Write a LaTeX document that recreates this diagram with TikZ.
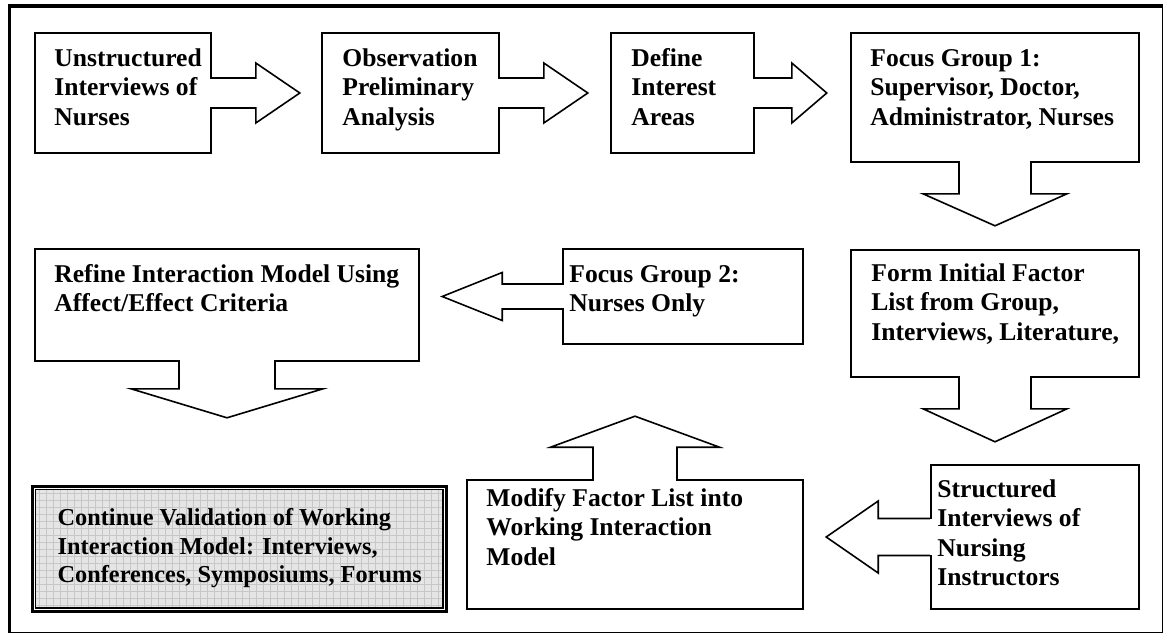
\documentclass[tikz,border=0pt]{standalone}
\usepackage{fontspec}
\setmainfont{Liberation Serif}
\usetikzlibrary{calc}
\newcommand\firstline{\rule{0pt}{18pt}}
\newcommand\arrH[5]{%
  \fill[white] ($(#1)+(-1.6,-#2+0.9)$) rectangle ($(#1)+(1.6,#2-0.9)$);
  \draw[blk] ($(#1)+(0,-#2)$) -- ($(#1)+(#3,-#2)$) -- ($(#1)+(#3,-#4)$) -- ($(#1)+(#5,0)$) -- ($(#1)+(#3,#4)$) -- ($(#1)+(#3,#2)$) -- ($(#1)+(0,#2)$);}
\newcommand\arrV[5]{%
  \fill[white] ($(#1)+(-#2+0.9,-1.6)$) rectangle ($(#1)+(#2-0.9,1.6)$);
  \draw[blk] ($(#1)+(-#2,0)$) -- ($(#1)+(-#2,#3)$) -- ($(#1)+(-#4,#3)$) -- ($(#1)+(0,#5)$) -- ($(#1)+(#4,#3)$) -- ($(#1)+(#2,#3)$) -- ($(#1)+(#2,0)$);}
\begin{document}
\begin{tikzpicture}[x=1pt,y=-1pt,
  box/.style={draw=black, line width=1.6pt, fill=white, rectangle, inner sep=0pt},
  blk/.style={draw=black, line width=1.6pt, line join=miter},
  lbl/.style={anchor=north west, inner sep=0pt, align=left, font=\fontsize{25.6}{29.3}\selectfont\bfseries},
  lblsmall/.style={anchor=north west, inner sep=0pt, align=left, font=\fontsize{24.3}{28.5}\selectfont\bfseries},
  gridline/.style={draw=black!22, line width=0.45pt}]
\useasboundingbox (0,0) rectangle (1164,634);
\fill[white] (0,0) rectangle (1164,634);
% outer frame
\draw[line width=3.5pt] (9.7,632.5) -- (9.7,6) -- (1162.5,6);
\draw[line width=1.2pt] (1162.5,6) -- (1162.5,632.5) -- (9.7,632.5);
% boxes
\node[box, minimum width=176, minimum height=120] (b1) at (123,93) {};
\node[box, minimum width=177, minimum height=120] (b2) at (410.5,93) {};
\node[box, minimum width=143, minimum height=120] (b3) at (682.5,93) {};
\node[box, minimum width=288, minimum height=129] (b4) at (995,97.5) {};
\node[box, minimum width=288, minimum height=127] (b5) at (995,313.5) {};
\node[box, minimum width=208, minimum height=144] (b6) at (1035,537) {};
\node[box, minimum width=336, minimum height=129] (b7) at (635,544.5) {};
\node[box, minimum width=240, minimum height=95] (b8) at (683,296.5) {};
\node[box, minimum width=384, minimum height=112] (b9) at (227,305) {};
% final box
\node[draw=black, line width=3pt, fill=white, minimum width=413.5, minimum height=124.5, inner sep=0pt] (b10) at (239.25,548.75) {};
\fill[black!10] ($(b10.north west)+(4.5,4.5)$) rectangle ($(b10.south east)+(-4.5,-4.5)$);
\begin{scope}
  \clip ($(b10.north west)+(4.5,4.5)$) rectangle ($(b10.south east)+(-4.5,-4.5)$);
  \foreach \i in {0,...,60} {\draw[gridline] ($(b10.north west)+(\i*7+1,0)$) -- ++(0,130);}
  \foreach \j in {0,...,19} {\draw[gridline] ($(b10.north west)+(0,\j*7+1)$) -- ++(420,0);}
\end{scope}
\draw[line width=1.1pt] ($(b10.north west)+(4.5,4.5)$) rectangle ($(b10.south east)+(-4.5,-4.5)$);
% block arrows
\arrH{b1.east}{15}{44}{30}{88}
\arrH{b2.east}{15}{44}{30}{88}
\arrH{b3.east}{15}{37}{30}{72}
\arrV{b4.south}{36}{31}{72}{63}
\arrV{b5.south}{36}{31}{72}{64}
\arrH{b6.west}{18.5}{-52}{36}{-104}
\arrV{b7.north}{42}{-32}{84.5}{-63}
\arrH{b8.west}{12.5}{-60}{24}{-120}
\arrV{b9.south}{48}{27}{96}{56}
% labels
\node[lbl] (t1) at ($(b1.north west)+(20,16)$) {\firstline Unstructured\\Interviews of\\Nurses};
\node[lbl] (t2) at ($(b2.north west)+(21,16)$) {\firstline Observation\\Preliminary\\Analysis};
\node[lbl] (t3) at ($(b3.north west)+(21,16)$) {\firstline Define\\Interest\\Areas};
\node[lbl] (t4) at ($(b4.north west)+(20,16)$) {\firstline Focus Group 1:\\Supervisor, Doctor,\\Administrator, Nurses};
\node[lbl] (t5) at ($(b5.north west)+(21,14)$) {\firstline Form Initial Factor\\List from Group,\\Interviews, Literature,};
\node[lbl] (t6) at ($(b6.north west)+(7,15)$) {\firstline Structured\\Interviews of\\Nursing\\Instructors};
\node[lbl] (t7) at ($(b7.north west)+(20,9)$) {\firstline Modify Factor List into\\Working Interaction\\Model};
\node[lbl] (t8) at ($(b8.north west)+(7,16)$) {\firstline Focus Group 2:\\Nurses Only};
\node[lbl] (t9) at ($(b9.north west)+(20,16)$) {\firstline Refine Interaction Model Using\\Affect/Effect Criteria};
\node[lblsmall] (t10) at ($(b10.north west)+(26.5,22.5)$) {\firstline Continue Validation of Working\\Interaction Model: Interviews,\\Conferences, Symposiums, Forums};
\end{tikzpicture}
\end{document}
